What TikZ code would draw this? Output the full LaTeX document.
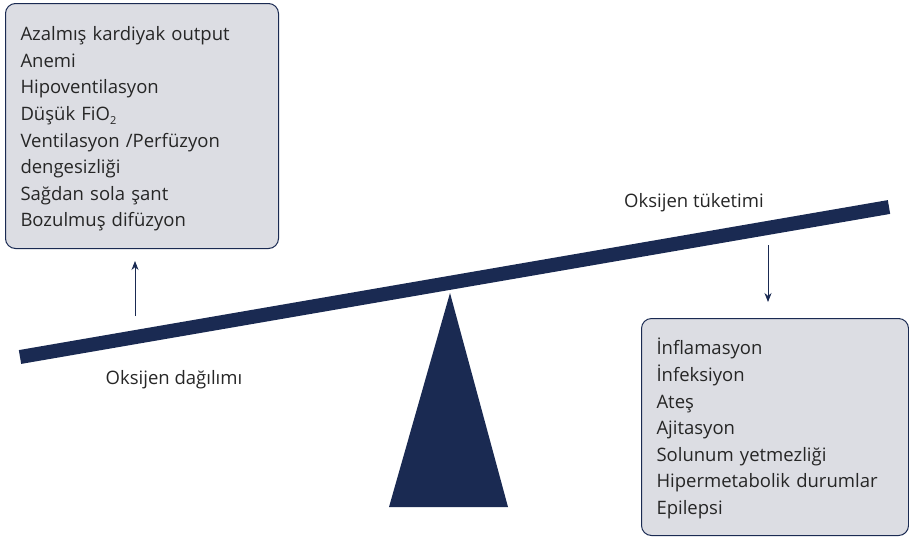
\documentclass[tikz,border=0pt]{standalone}
\usepackage{fontspec}
\setmainfont{Open Sans}
\usetikzlibrary{arrows.meta,positioning}

\definecolor{navy}{HTML}{1A2A52}
\definecolor{boxgray}{HTML}{DCDDE3}

\newcommand{\lowsub}[1]{\raisebox{-4pt}{\fontsize{11}{11}\selectfont #1}}
\newcommand{\topstrut}{\rule{0pt}{20pt}}

\tikzset{
  listbox/.style={rectangle, draw=navy, line width=1pt, fill=boxgray, rounded corners=10pt,
    anchor=north west, align=left, inner xsep=15pt, font=\fontsize{18.5}{26.6}\selectfont, text=black!85},
  beamlabel/.style={font=\fontsize{18.5}{20}\selectfont, text=black!85},
  flowarrow/.style={-{Stealth[length=9pt,width=7pt]}, draw=navy, line width=0.8pt}
}

\begin{document}
\begin{tikzpicture}[x=1pt,y=-1pt]

\useasboundingbox (0,0) rectangle (909,539);

% boxes
\node[listbox, minimum width=273, minimum height=245, text width=243] (causes) at (5,3)
  {\topstrut Azalmış kardiyak output\\Anemi\\Hipoventilasyon\\Düşük FiO\lowsub{2}\\Ventilasyon /Perfüzyon\\dengesizliği\\Sağdan sola şant\\Bozulmuş difüzyon};
\node[listbox, minimum width=267, minimum height=217, text width=237] (effects) at (641,318)
  {\topstrut İnflamasyon\\İnfeksiyon\\Ateş\\Ajitasyon\\Solunum yetmezliği\\Hipermetabolik durumlar\\Epilepsi};

% seesaw
\coordinate (beamL) at (20,357);
\coordinate (beamR) at (889,207);
\coordinate (apex) at (450,293);
\coordinate (baseL) at (389,507);
\coordinate (baseR) at (508,507);
\draw[navy, line width=14pt] (beamL) -- (beamR);
\fill[navy] (apex) -- (baseL) -- (baseR) -- cycle;

% labels
\node[beamlabel] (supply) at (174,380) {Oksijen dağılımı};
\node[beamlabel] (demand) at (694,203) {Oksijen tüketimi};

% arrows
\coordinate (upTail) at (135,316);
\coordinate (downTail) at (768,245);
\draw[flowarrow, shorten >=12pt] (upTail) -- (upTail |- causes.south);
\draw[flowarrow, shorten >=16pt] (downTail) -- (downTail |- effects.north);

\end{tikzpicture}
\end{document}
